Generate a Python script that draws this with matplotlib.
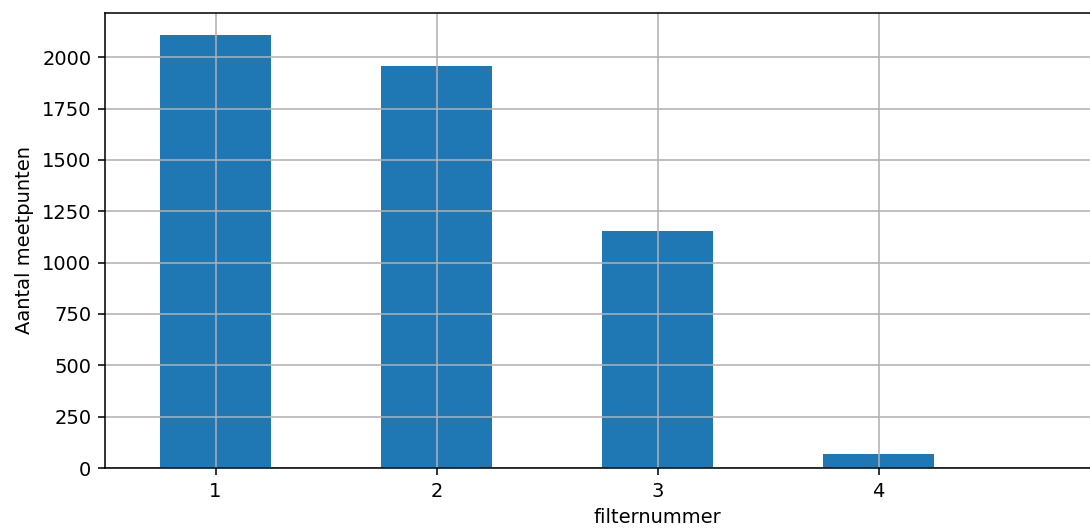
import matplotlib
matplotlib.use("Agg")
import matplotlib.pyplot as plt

filternummers = [1, 2, 3, 4]
aantallen = [2110, 1955, 1152, 68]

dpi = 140
fig = plt.figure(figsize=(1090 / dpi, 528 / dpi), dpi=dpi)
# axes runs past the right edge of the figure, as in the original crop
ax = fig.add_axes([105 / 1090, 60 / 528, 1105 / 1090, 455 / 528])

ax.bar(filternummers, aantallen, width=0.5, color='#1f77b4')
ax.set_xlim(0.5, 5.5)
ax.set_xticks(filternummers)
ax.grid(True)
ax.set_xlabel('filternummer')
ax.set_ylabel('Aantal meetpunten')

fig.savefig('out.png', dpi=dpi)
